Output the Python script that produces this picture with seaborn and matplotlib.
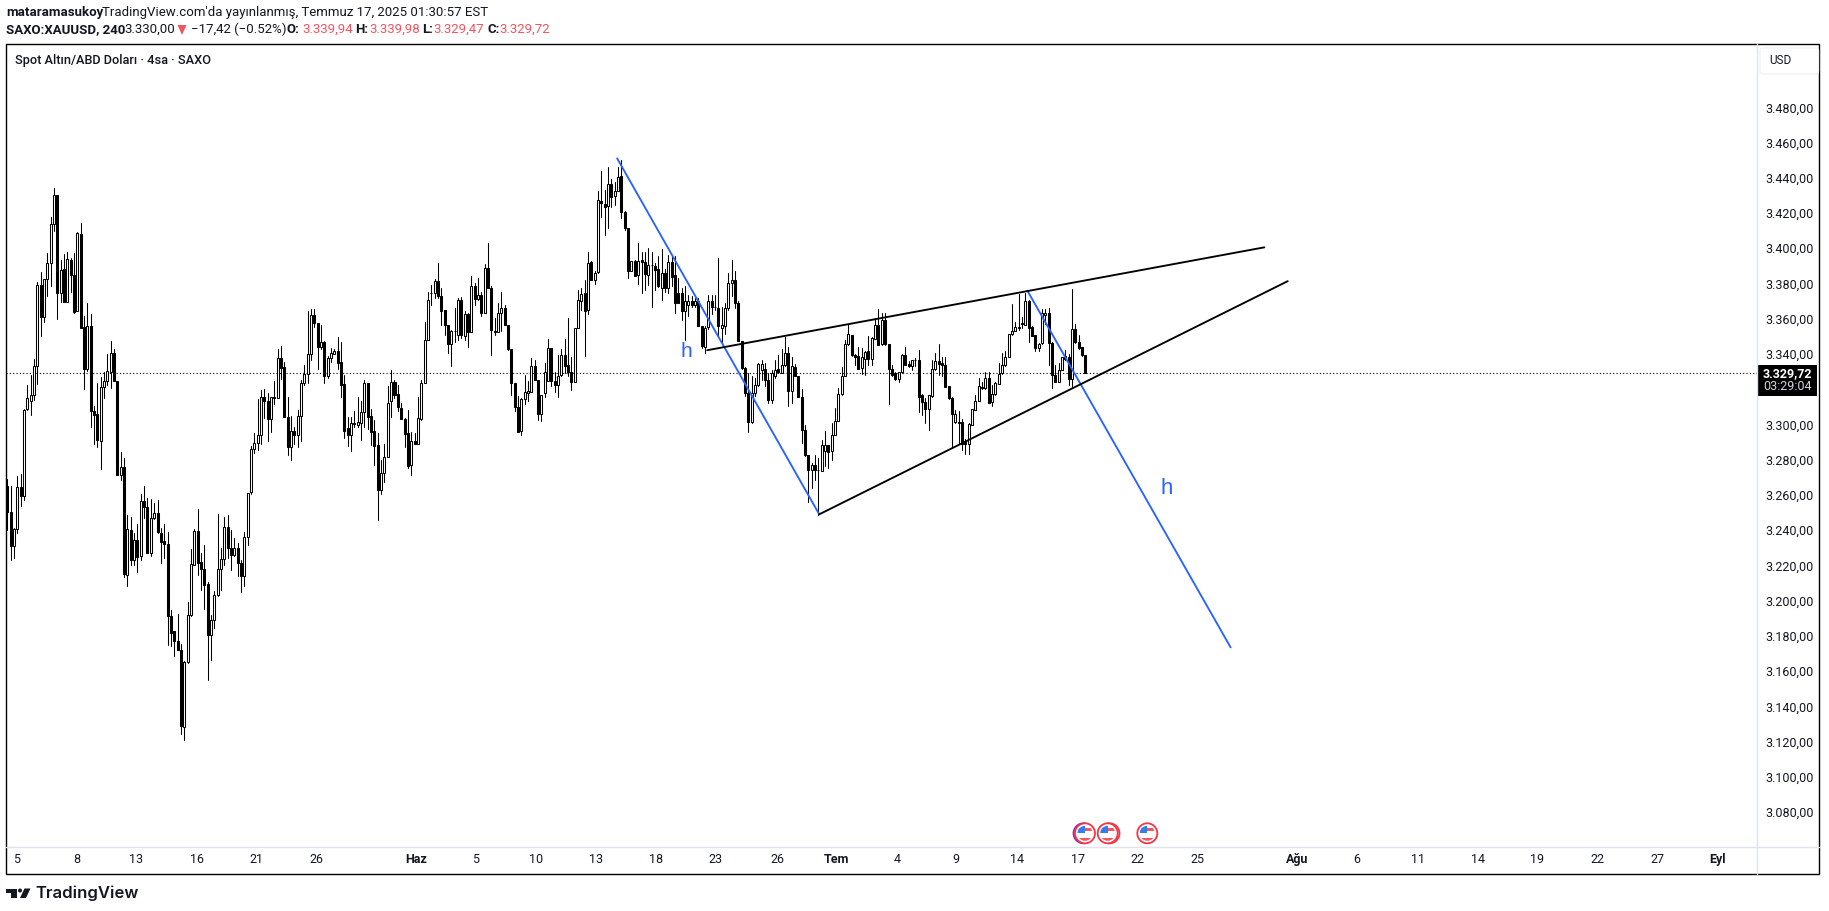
import numpy as np
import pandas as pd
import matplotlib
matplotlib.use("Agg")
import matplotlib.pyplot as plt
from matplotlib.patches import Circle, Rectangle, FancyBboxPatch, Polygon
import seaborn as sns

# 4h candles, oldest first
body_top = [
3264.9,3250.3,3240.7,3264.5,3264.5,3308.3,3314.7,3316.4,3332.9,3379.2,
3379.2,3382.4,3391.5,3413.6,3430.2,3430.2,3387.7,3388.1,3393.7,3393.4,
3384.9,3408.5,3408.1,3355.2,3355.6,3355.9,3307.4,3305.9,3321.0,3324.6,
3330.2,3340.4,3340.4,3324.8,3275.8,3275.8,3240.7,3240.3,3234.6,3234.6,
3256.5,3256.5,3253.1,3246.9,3249.7,3249.7,3238.4,3234.0,3232.3,3191.4,
3182.5,3176.9,3172.2,3165.2,3191.6,3220.9,3239.6,3239.6,3221.9,3218.1,
3209.6,3189.2,3203.1,3217.9,3223.6,3241.7,3241.7,3229.8,3229.8,3229.8,
3221.3,3236.0,3261.0,3286.1,3289.3,3294.1,3315.8,3315.8,3313.0,3315.8,
3315.8,3337.5,3337.5,3332.4,3304.1,3296.1,3296.1,3304.6,3323.4,3328.6,
3339.8,3362.1,3362.1,3357.4,3346.8,3346.8,3337.5,3340.4,3341.7,3341.7,
3335.3,3323.0,3298.0,3300.7,3300.7,3301.2,3306.9,3323.4,3323.4,3304.8,
3296.1,3288.4,3272.3,3281.4,3312.0,3323.9,3323.9,3317.1,3309.2,3302.9,
3295.0,3290.5,3290.5,3303.5,3323.4,3347.7,3370.7,3374.7,3381.5,3381.5,
3373.0,3364.7,3356.2,3353.1,3352.9,3370.7,3370.7,3362.6,3362.8,3378.3,
3378.3,3373.5,3373.5,3388.7,3388.7,3377.7,3352.9,3363.1,3366.0,3366.0,
3356.2,3342.6,3323.5,3309.9,3314.4,3318.4,3318.7,3332.9,3332.9,3325.0,
3316.9,3329.5,3343.3,3343.3,3324.4,3327.6,3339.5,3339.5,3333.8,3329.5,
3354.6,3370.5,3373.9,3374.5,3391.5,3391.9,3386.2,3427.4,3427.0,3425.1,
3436.3,3436.5,3432.7,3440.6,3441.0,3420.8,3411.2,3392.6,3392.8,3392.8,
3393.2,3392.1,3390.6,3390.6,3390.0,3388.1,3385.8,3385.8,3391.9,3391.9,
3384.9,3374.5,3374.5,3369.8,3370.0,3369.8,3369.8,3369.8,3355.6,3354.6,
3369.8,3370.0,3366.9,3366.0,3356.5,3366.0,3380.2,3382.0,3382.0,3368.8,
3347.1,3332.0,3317.8,3317.8,3322.1,3334.2,3334.2,3331.4,3325.0,3329.1,
3331.0,3331.6,3333.8,3340.4,3340.4,3332.9,3332.5,3327.6,3315.8,3296.9,
3282.4,3277.1,3277.1,3274.3,3288.1,3288.1,3288.1,3294.1,3302.2,3317.2,
3327.7,3345.5,3351.2,3350.8,3339.5,3338.9,3338.1,3341.0,3341.4,3348.9,
3356.5,3356.5,3359.3,3359.3,3345.5,3331.3,3329.1,3329.6,3339.3,3339.3,
3334.2,3336.6,3336.8,3336.6,3316.8,3312.6,3316.4,3331.3,3335.7,3336.1,
3334.7,3333.8,3321.9,3314.9,3305.8,3301.3,3301.3,3290.3,3300.3,3308.5,
3313.4,3321.9,3321.5,3326.2,3326.2,3317.4,3323.4,3328.7,3333.6,3338.5,
3351.2,3353.1,3355.0,3355.5,3357.8,3370.1,3370.1,3355.0,3350.6,3345.7,
3363.1,3363.1,3363.1,3346.1,3328.1,3331.0,3338.0,3338.9,3338.5,3354.2,
3354.4,3346.5,3344.2,3339.3]
body_bottom = [
3250.3,3230.8,3230.8,3240.7,3259.2,3259.2,3308.7,3313.0,3316.4,3332.9,
3361.2,3361.2,3382.4,3391.5,3413.6,3374.5,3374.5,3369.2,3369.2,3384.9,
3363.7,3364.1,3354.6,3331.6,3331.6,3307.4,3305.5,3290.9,3290.4,3321.0,
3324.6,3329.9,3324.4,3271.1,3271.1,3214.8,3214.4,3222.9,3222.9,3224.8,
3225.2,3252.9,3227.0,3227.0,3246.9,3238.8,3233.1,3232.2,3191.1,3181.6,
3176.9,3171.8,3128.7,3128.3,3165.2,3191.6,3220.3,3221.3,3218.1,3208.6,
3180.3,3180.3,3188.8,3203.1,3217.9,3223.6,3229.8,3225.6,3225.6,3221.3,
3213.7,3213.7,3236.0,3261.5,3285.9,3289.3,3294.1,3313.0,3302.9,3303.3,
3314.7,3314.8,3331.9,3304.1,3287.4,3287.4,3294.2,3294.2,3304.6,3323.4,
3328.6,3339.8,3357.4,3344.1,3344.1,3327.7,3327.7,3337.9,3340.2,3335.1,
3322.6,3296.5,3294.2,3294.2,3300.3,3299.9,3301.0,3306.9,3304.4,3295.9,
3288.0,3262.9,3262.9,3272.3,3281.4,3313.0,3316.9,3309.6,3303.3,3294.8,
3276.1,3276.7,3288.6,3288.6,3302.9,3323.5,3347.7,3374.3,3374.5,3373.0,
3364.5,3356.2,3345.6,3345.8,3352.8,3350.5,3350.5,3349.9,3352.2,3352.4,
3371.3,3371.3,3363.5,3363.5,3377.7,3353.3,3352.4,3352.4,3363.1,3356.2,
3342.6,3323.5,3309.9,3295.5,3296.1,3314.6,3318.0,3318.4,3325.0,3305.9,
3305.9,3317.8,3324.4,3324.4,3322.1,3322.1,3327.8,3332.9,3329.5,3323.8,
3323.8,3354.6,3370.3,3364.5,3365.0,3382.0,3382.0,3386.4,3425.5,3423.6,
3424.0,3429.3,3429.9,3432.7,3420.8,3411.2,3387.2,3387.2,3384.5,3384.9,
3391.9,3385.3,3384.9,3390.2,3387.7,3378.3,3377.7,3377.7,3377.7,3383.9,
3368.8,3368.8,3364.1,3364.1,3367.5,3367.5,3367.5,3355.6,3344.3,3343.7,
3355.2,3366.9,3366.4,3355.6,3354.6,3355.6,3366.0,3380.2,3368.8,3347.1,
3332.0,3317.8,3301.2,3301.2,3317.8,3322.1,3331.0,3325.0,3314.0,3314.0,
3327.6,3329.5,3329.1,3333.8,3319.2,3319.2,3327.6,3315.8,3296.6,3282.4,
3273.9,3273.9,3273.9,3273.9,3273.5,3284.7,3284.3,3284.7,3293.9,3302.2,
3317.2,3327.7,3345.5,3339.5,3338.0,3331.7,3331.9,3337.2,3337.0,3337.0,
3348.7,3345.1,3345.5,3345.5,3331.3,3328.1,3325.7,3325.7,3329.6,3333.8,
3333.4,3333.4,3336.4,3315.8,3312.6,3308.7,3308.7,3316.2,3331.3,3334.4,
3333.6,3321.5,3314.9,3305.8,3301.1,3300.9,3289.0,3288.8,3289.0,3299.8,
3308.3,3313.4,3320.4,3320.6,3312.4,3312.6,3317.0,3323.2,3328.9,3333.6,
3338.5,3351.4,3353.1,3354.8,3356.7,3356.5,3354.6,3350.2,3343.2,3343.1,
3346.1,3362.1,3346.1,3328.1,3324.3,3324.3,3331.0,3337.2,3325.9,3326.0,
3346.5,3343.2,3339.3,3329.1]
wick_high = [
3269.0,3264.9,3241.2,3270.9,3272.0,3308.7,3322.5,3328.2,3337.0,3381.1,
3386.4,3382.4,3397.2,3417.9,3434.0,3430.2,3393.4,3396.8,3397.7,3394.3,
3397.2,3409.1,3414.2,3361.6,3368.8,3362.8,3310.6,3323.4,3326.8,3329.7,
3340.1,3347.3,3342.9,3324.8,3284.3,3280.9,3248.8,3247.5,3238.4,3243.7,
3260.7,3265.2,3258.2,3257.7,3255.4,3257.3,3241.2,3243.7,3239.2,3194.4,
3182.5,3192.6,3175.6,3165.5,3199.2,3229.4,3240.6,3252.1,3227.0,3231.3,
3210.3,3192.0,3205.2,3249.3,3229.8,3247.4,3248.7,3239.8,3235.5,3232.6,
3222.8,3238.9,3261.0,3287.8,3295.0,3314.5,3319.6,3320.1,3317.7,3315.8,
3324.7,3342.6,3344.5,3335.3,3315.4,3304.8,3298.8,3308.2,3325.2,3333.7,
3364.4,3365.3,3365.3,3357.7,3356.4,3347.4,3338.8,3343.2,3343.0,3349.6,
3346.8,3328.1,3304.3,3304.4,3307.7,3315.4,3313.3,3325.2,3323.7,3308.8,
3302.6,3295.0,3279.9,3289.0,3321.8,3330.9,3325.2,3322.4,3312.0,3303.5,
3308.2,3295.9,3295.0,3315.8,3325.2,3358.4,3375.4,3379.2,3382.4,3391.5,
3377.3,3365.0,3356.2,3353.7,3366.0,3371.7,3372.2,3364.1,3363.5,3384.5,
3380.2,3383.0,3375.1,3390.9,3402.8,3378.3,3360.3,3368.8,3375.1,3367.9,
3356.5,3342.7,3323.5,3315.9,3315.0,3328.2,3324.4,3337.6,3336.7,3325.0,
3316.9,3334.8,3348.4,3343.3,3329.5,3339.5,3342.7,3348.4,3360.3,3338.0,
3354.6,3376.4,3377.3,3381.7,3398.1,3392.8,3386.8,3432.7,3444.0,3433.1,
3446.3,3439.1,3437.8,3446.3,3450.1,3421.2,3411.2,3392.6,3393.2,3402.8,
3398.1,3398.1,3400.0,3398.1,3391.5,3395.7,3399.4,3388.1,3396.2,3395.3,
3395.7,3383.0,3377.7,3378.3,3373.5,3372.6,3371.7,3371.7,3356.0,3355.6,
3373.5,3373.5,3373.5,3394.3,3366.9,3368.8,3386.2,3393.4,3387.2,3369.8,
3347.5,3332.5,3329.1,3327.2,3326.3,3334.8,3336.7,3334.8,3329.1,3330.6,
3336.7,3339.5,3342.7,3349.5,3344.2,3338.5,3334.4,3327.6,3320.0,3299.8,
3282.4,3278.0,3282.8,3280.9,3291.3,3296.0,3288.4,3300.7,3309.2,3320.6,
3332.5,3348.0,3357.0,3350.8,3340.0,3344.2,3343.2,3341.9,3350.2,3349.5,
3360.3,3365.4,3363.1,3363.1,3345.5,3333.8,3330.0,3330.0,3340.0,3344.2,
3335.7,3336.6,3337.6,3342.3,3317.2,3314.9,3316.8,3336.3,3340.4,3345.7,
3338.1,3338.5,3321.9,3315.3,3308.3,3307.7,3303.0,3291.6,3300.7,3308.7,
3316.8,3326.2,3324.3,3329.6,3329.6,3322.5,3323.8,3334.7,3340.4,3341.4,
3351.4,3368.2,3358.4,3374.1,3361.2,3374.8,3370.7,3355.9,3350.8,3346.1,
3365.4,3365.4,3365.9,3346.5,3333.8,3334.7,3338.5,3342.3,3340.0,3376.7,
3357.0,3350.8,3344.2,3339.3]
wick_low = [
3239.9,3222.9,3224.2,3238.4,3253.5,3256.9,3308.3,3305.5,3314.0,3323.1,
3350.3,3358.4,3373.0,3378.3,3410.0,3359.9,3369.7,3369.2,3369.2,3375.4,
3363.1,3364.1,3354.6,3320.2,3330.4,3298.3,3289.0,3287.0,3274.9,3315.1,
3322.5,3320.6,3324.4,3271.1,3268.6,3213.4,3208.2,3220.4,3220.4,3216.1,
3223.3,3246.9,3227.0,3225.5,3246.3,3238.4,3221.4,3224.2,3175.0,3174.0,
3168.4,3171.8,3124.0,3121.1,3164.6,3191.1,3220.0,3214.7,3206.2,3195.2,
3154.8,3166.5,3184.4,3202.8,3206.2,3220.0,3224.1,3217.1,3225.1,3214.1,
3204.7,3208.1,3231.7,3260.6,3284.0,3285.2,3289.0,3303.5,3290.8,3295.4,
3311.6,3314.8,3325.8,3304.1,3282.7,3279.9,3289.0,3286.9,3290.6,3322.4,
3323.7,3336.6,3355.5,3331.5,3342.8,3323.5,3326.4,3335.6,3340.0,3331.5,
3315.6,3292.4,3287.8,3285.0,3298.8,3298.8,3291.2,3298.4,3297.5,3288.4,
3277.0,3245.5,3260.6,3267.4,3281.4,3304.4,3315.2,3307.7,3302.9,3287.3,
3275.5,3271.4,3288.6,3288.6,3302.6,3323.5,3347.7,3367.9,3371.7,3371.7,
3356.2,3350.9,3340.5,3332.9,3346.7,3348.0,3349.0,3348.0,3343.9,3352.2,
3367.9,3370.7,3361.3,3363.5,3377.7,3339.5,3350.5,3352.4,3352.8,3356.2,
3342.4,3316.8,3307.4,3295.5,3293.8,3311.7,3313.1,3318.4,3325.0,3302.7,
3301.7,3315.5,3324.4,3321.6,3318.2,3315.3,3327.2,3329.1,3327.6,3319.7,
3323.8,3354.5,3365.0,3338.6,3362.6,3381.7,3379.6,3385.8,3418.0,3407.6,
3411.4,3423.6,3424.6,3432.7,3417.0,3410.4,3383.0,3386.8,3384.3,3379.8,
3374.5,3376.4,3379.2,3366.4,3376.4,3377.9,3370.7,3375.4,3374.5,3378.8,
3363.1,3368.8,3359.4,3347.7,3361.3,3366.9,3366.9,3355.6,3343.3,3340.5,
3354.3,3362.8,3365.0,3350.3,3346.1,3351.4,3365.0,3372.6,3366.0,3347.1,
3331.4,3315.9,3295.5,3300.8,3315.9,3321.6,3325.3,3321.6,3312.1,3312.1,
3326.3,3329.1,3329.1,3333.4,3310.2,3312.4,3327.2,3315.8,3289.4,3282.2,
3255.7,3263.9,3268.6,3248.7,3273.3,3276.2,3275.2,3279.6,3293.7,3301.7,
3316.8,3327.6,3345.1,3338.9,3333.8,3331.3,3328.7,3327.9,3333.8,3333.8,
3348.3,3345.1,3345.1,3345.1,3311.7,3327.6,3325.3,3323.8,3329.1,3333.6,
3332.5,3330.6,3332.9,3306.8,3305.4,3300.7,3296.6,3315.8,3330.6,3328.1,
3327.6,3321.1,3314.5,3287.1,3300.7,3289.4,3285.2,3283.1,3283.1,3299.4,
3308.3,3313.0,3320.0,3320.0,3312.1,3310.2,3316.6,3323.0,3328.7,3333.2,
3338.5,3351.0,3352.9,3353.6,3354.6,3356.5,3346.5,3349.9,3341.4,3341.4,
3345.7,3357.0,3333.8,3320.6,3324.2,3324.3,3330.6,3336.6,3322.5,3320.6,
3346.1,3342.9,3338.9,3329.1]
# U = hollow (up), D = filled (down)
direction = (
    "DDUUDUUUUU" "DUUUUDUDUD" "DUDDUDDDUU" "UUDDUDUDUD" "UDDUUDDDDD"
    "DDDUUUUDDD" "DUUUUUDDUD" "DUUUUUUDDU" "DUDDDUDUUU" "UUDDUDUUUD"
    "DDDUUUUUDD" "DDUUUUDDDD" "DUDUUUUUUD" "DDDUUUDUDU" "DUDUDDDUUD"
    "DDDDUUUUDD" "UUUDDUUDDD" "UUUDUDUUDD" "UDUUDDDUDU" "DDUUDDUDUD"
    "DDDUUDUDDU" "UDUDUUUUDD" "DDDUUUUDDU" "UDUUDUDDDD" "DUDUUUDUUU"
    "UUUDDDUUDU" "UDUDDDDUUD" "DUUDDDUUUD" "DDDDUDDDUU" "UUDUDUUUUU"
    "UUUUDUDDDU" "UUDDDUUDDU" "DDDD"
)

price_ticks = [3480, 3460, 3440, 3420, 3400, 3380, 3360, 3340, 3300, 3280, 3260,
               3240, 3220, 3200, 3180, 3160, 3140, 3120, 3100, 3080]
time_ticks = [3.7, 21.7, 39.7, 57.7, 75.7, 93.7, 123.6, 141.4, 159.5, 177.5, 195.5,
              213.3, 231.6, 249.4, 267.5, 285.3, 303.5, 321.7, 339.5, 357.6, 387.3,
              405.2, 423.5, 441.6, 459.3, 477.5, 495.4, 513.5]
time_labels = ["5", "8", "13", "16", "21", "26", "Haz", "5", "10", "13", "18", "23",
               "26", "Tem", "4", "9", "14", "17", "22", "25", "Ağu", "6", "11", "14",
               "19", "22", "27", "Eyl"]
month_labels = ["Haz", "Tem", "Ağu", "Eyl"]

# drawings: bar index and price of each end
blue_1_x, blue_1_y = [183.7, 244.2], [3451.0, 3249.1]
blue_2_x, blue_2_y = [306.6, 367.5], [3375.9, 3173.4]
upper_x, upper_y = [210.7, 377.6], [3342.1, 3400.5]
lower_x, lower_y = [244.2, 384.6], [3248.9, 3381.3]

W, H = 1829, 911
INK = "#131722"
RED = "#f7525f"
BLUE = "#2962ff"

sns.set_theme(style="white")
plt.rcParams["font.family"] = ["Roboto", "DejaVu Sans"]

df = pd.DataFrame({"bar": np.arange(1, len(body_top) + 1), "top": body_top, "bottom": body_bottom,
                   "high": wick_high, "low": wick_low, "dir": list(direction)})
wicks = df.melt(id_vars="bar", value_vars=["high", "low"], value_name="price")

fig = plt.figure(figsize=(W / 100, H / 100), dpi=100, facecolor="white")
ax = fig.add_axes([6 / W, 1 - 846.5 / H, (1756.7 - 6) / W, (846.5 - 43.5) / H])
ax.set_xlim(0.61, 525.1)
ax.set_ylim(3060.4, 3516.2)

last_close = body_bottom[-1]
ax.axhline(last_close, color="black", lw=0.8, ls=(0, (1, 2)), zorder=1)

sns.lineplot(data=wicks, x="bar", y="price", units="bar", estimator=None, sort=False,
             color="black", lw=0.75, ax=ax, zorder=2)

# candle bodies
for d, face in [("U", "white"), ("D", "black")]:
    part = df[df["dir"] == d]
    ax.bar(part["bar"], part["top"] - part["bottom"], bottom=part["bottom"], width=0.6,
           color=face, edgecolor="black", linewidth=0.75, zorder=3)

trend = pd.concat([
    pd.DataFrame({"name": "b1", "x": blue_1_x, "y": blue_1_y}),
    pd.DataFrame({"name": "b2", "x": blue_2_x, "y": blue_2_y}),
    pd.DataFrame({"name": "up", "x": upper_x, "y": upper_y}),
    pd.DataFrame({"name": "lo", "x": lower_x, "y": lower_y}),
])
sns.lineplot(data=trend, x="x", y="y", hue="name", units="name", estimator=None, sort=False,
             palette={"b1": BLUE, "b2": BLUE, "up": "black", "lo": "black"},
             lw=1.35, legend=False, ax=ax, zorder=4)

ax.text(204.5, 3341.3, "h", color=BLUE, fontsize=15, family="Liberation Sans", ha="center", va="center", zorder=5)
ax.text(348.3, 3263.4, "h", color=BLUE, fontsize=16, family="Liberation Sans", ha="center", va="center", zorder=5)

ax.yaxis.tick_right()
ax.set_yticks(price_ticks)
ax.set_yticklabels([f"{p:,.2f}".replace(",", "#").replace(".", ",").replace("#", ".") for p in price_ticks])
ax.set_xticks(time_ticks)
ax.set_xticklabels(time_labels)
ax.tick_params(axis="both", length=0, labelsize=9, labelcolor=INK)
ax.tick_params(axis="y", pad=6)
ax.tick_params(axis="x", pad=5)
for t in ax.get_xticklabels():
    if t.get_text() in month_labels:
        t.set_fontweight("bold")
ax.set_xlabel("")
ax.set_ylabel("")
sns.despine(ax=ax, left=True, bottom=True, top=True, right=True)

# chrome in pixel coordinates on top of the chart
ov = fig.add_axes([0, 0, 1, 1], zorder=10)
ov.set_xlim(0, W)
ov.set_ylim(H, 0)
ov.axis("off")
ov.patch.set_alpha(0)

ov.plot([1756.7, 1756.7], [43.5, 874], color="#e0e3eb", lw=1)
ov.plot([6, 1819], [846.5, 846.5], color="#e0e3eb", lw=1)
ov.add_patch(Rectangle((6, 43.5), 1813, 830.5, fill=False, edgecolor="black", lw=1))

ov.add_patch(FancyBboxPatch((1762, 50), 54.5, 22, boxstyle="round,pad=2,rounding_size=3",
                            facecolor="white", edgecolor="#f0f3fa", lw=1))
ov.text(1769, 61, "USD", color=INK, fontsize=8.5, va="center", ha="left")

ov.add_patch(Rectangle((1757.3, 365), 59.4, 30.7, facecolor="black", edgecolor="none"))
ov.text(1787, 373.3, "3.329,72", color="white", fontsize=9, fontweight="bold", ha="center", va="center")
ov.text(1787, 386.7, "03:29:04", color="#d1d4dc", fontsize=9, ha="center", va="center")

ov.text(15, 60.7, "Spot Altın/ABD Doları · 4sa · SAXO", color=INK, fontsize=9.2, fontweight="medium", va="center")

y1, y2 = 12.7, 29.7
ov.text(6, y1, "mataramasukoy", color=INK, fontsize=9.5, fontweight="bold", va="center")
ov.text(102, y1, "TradingView.com'da yayınlanmış, Temmuz 17, 2025 01:30:57 EST", color=INK, fontsize=9.5, va="center")
header = [(6, "SAXO:XAUUSD, 240", INK, "bold"), (124.5, "3.330,00", INK, "normal"),
          (191, "−17,42 (−0.52%)", INK, "normal"), (286.6, "O:", INK, "bold"),
          (302, "3.339,94", RED, "normal"), (355, "H:", INK, "bold"), (369, "3.339,98", RED, "normal"),
          (422, "L:", INK, "bold"), (433, "3.329,47", RED, "normal"), (487, "C:", INK, "bold"),
          (499, "3.329,72", RED, "normal")]
for x, s, c, w in header:
    ov.text(x, y2, s, color=c, fontsize=9.5, fontweight=w, va="center")
ov.add_patch(Polygon([(177.5, 25), (186.5, 25), (182, 35)], closed=True, facecolor=RED, edgecolor="none"))


def flag(x, y=833.3):
    ring = Circle((x, y), 10, facecolor="white", edgecolor="#f23645", lw=1.3, zorder=12)
    ov.add_patch(ring)
    clip = Circle((x, y), 7.5, transform=ov.transData)
    for yy, hh, col in [(y - 7.5, 5, "#f7525f"), (y - 2.5, 5, "white"), (y + 2.5, 5, "#f7525f")]:
        r = Rectangle((x - 7.5, yy + 2), 15, hh - 2 if col == "white" else hh - 1.5, facecolor=col, edgecolor="none", zorder=13)
        ov.add_patch(r)
        r.set_clip_path(clip)
    b = Rectangle((x - 8, y - 8), 8, 8, facecolor="#2f80ed", edgecolor="none", zorder=14)
    ov.add_patch(b)
    b.set_clip_path(clip)


ov.add_patch(Circle((1083.5, 833.3), 10, facecolor="white", edgecolor="#9c27b0", lw=1.3, zorder=11))
ov.add_patch(Circle((1109.5, 833.3), 10, facecolor="white", edgecolor="#f23645", lw=1.3, zorder=11))
flag(1085)
flag(1107.7)
flag(1147.3)

# TradingView logo
ov.add_patch(Polygon([(6, 888.5), (16.5, 888.5), (16.5, 898), (11, 898), (11, 892.5), (6, 892.5)],
                     closed=True, facecolor=INK, edgecolor="none"))
ov.add_patch(Circle((20, 890.5), 2, facecolor=INK, edgecolor="none"))
ov.add_patch(Polygon([(24.5, 888.5), (30.5, 888.5), (26, 898), (20, 898)], closed=True, facecolor=INK, edgecolor="none"))
ov.text(35, 893, "TradingView", color=INK, fontsize=12, family="Inter", fontweight="semibold", va="center")

fig.savefig("out.png", dpi=100, facecolor="white")
